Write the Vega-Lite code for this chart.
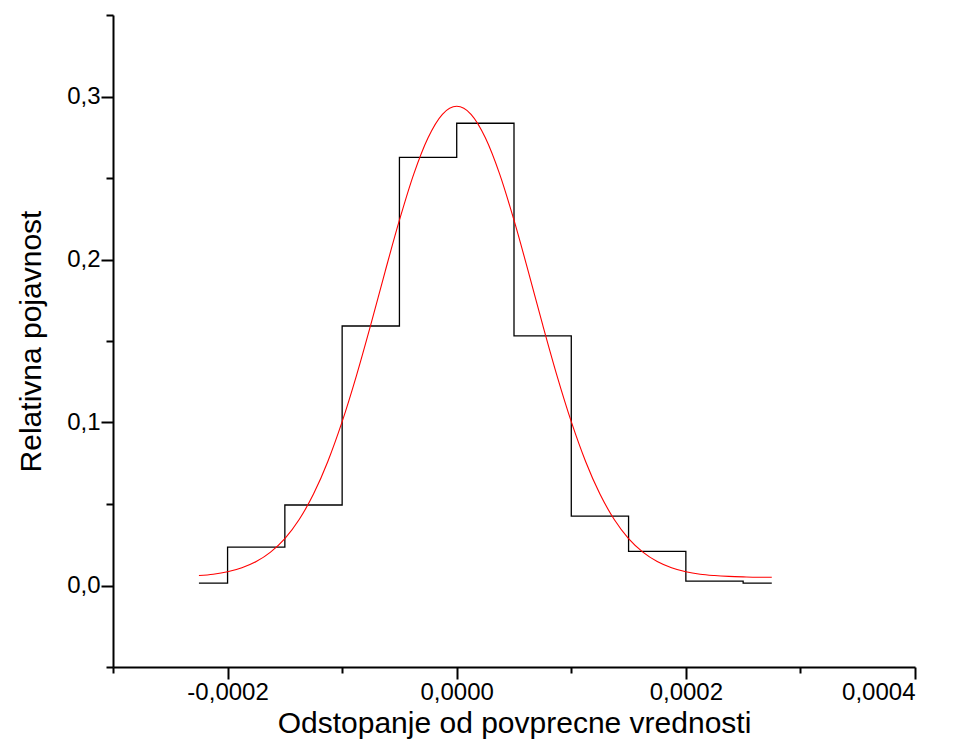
{
  "$schema": "https://vega.github.io/schema/vega-lite/v6.json",
  "width": 802,
  "height": 652,
  "autosize": "none",
  "padding": {"left": 113, "top": 15, "right": 42, "bottom": 78},
  "background": "white",
  "config": {"view": {"stroke": null}, "font": "Liberation Sans"},
  "datasets": {
    "hist": [
      {"x": -0.000225, "y": 0.0015},
      {"x": -0.000175, "y": 0.0236},
      {"x": -0.000125, "y": 0.0494},
      {"x": -0.000075, "y": 0.1592},
      {"x": -0.000025, "y": 0.2627},
      {"x": 0.000025, "y": 0.2836},
      {"x": 0.000075, "y": 0.1531},
      {"x": 0.000125, "y": 0.0426},
      {"x": 0.000175, "y": 0.0209},
      {"x": 0.000225, "y": 0.0027},
      {"x": 0.000275, "y": 0.0015}
    ],
    "fit": [
      {"x": -0.000225, "y": 0.0061},
      {"x": -0.0002125, "y": 0.0069},
      {"x": -0.0002, "y": 0.0084},
      {"x": -0.0001875, "y": 0.0109},
      {"x": -0.000175, "y": 0.0147},
      {"x": -0.0001625, "y": 0.0205},
      {"x": -0.00015, "y": 0.0288},
      {"x": -0.0001375, "y": 0.0405},
      {"x": -0.000125, "y": 0.0561},
      {"x": -0.0001125, "y": 0.0761},
      {"x": -0.0001, "y": 0.1005},
      {"x": -0.0000875, "y": 0.1288},
      {"x": -0.000075, "y": 0.1600},
      {"x": -0.0000625, "y": 0.1926},
      {"x": -0.00005, "y": 0.2241},
      {"x": -0.0000375, "y": 0.2524},
      {"x": -0.000025, "y": 0.2747},
      {"x": -0.0000125, "y": 0.2891},
      {"x": 0, "y": 0.294},
      {"x": 0.0000125, "y": 0.2891},
      {"x": 0.000025, "y": 0.2747},
      {"x": 0.0000375, "y": 0.2524},
      {"x": 0.00005, "y": 0.2241},
      {"x": 0.0000625, "y": 0.1926},
      {"x": 0.000075, "y": 0.1600},
      {"x": 0.0000875, "y": 0.1288},
      {"x": 0.0001, "y": 0.1005},
      {"x": 0.0001125, "y": 0.0761},
      {"x": 0.000125, "y": 0.0561},
      {"x": 0.0001375, "y": 0.0405},
      {"x": 0.00015, "y": 0.0288},
      {"x": 0.0001625, "y": 0.0205},
      {"x": 0.000175, "y": 0.0147},
      {"x": 0.0001875, "y": 0.0109},
      {"x": 0.0002, "y": 0.0084},
      {"x": 0.0002125, "y": 0.0069},
      {"x": 0.000225, "y": 0.0061},
      {"x": 0.0002375, "y": 0.0056},
      {"x": 0.00025, "y": 0.0053},
      {"x": 0.0002625, "y": 0.0051},
      {"x": 0.000275, "y": 0.0051}
    ]
  },
  "layer": [
    {
      "data": {"name": "hist"},
      "mark": {"type": "line", "interpolate": "step", "color": "black", "strokeWidth": 1.3},
      "encoding": {
        "x": {
          "field": "x", "type": "quantitative",
          "scale": {"domain": [-0.0003, 0.0004], "nice": false, "zero": false},
          "axis": {
            "values": [-0.0003, -0.0002, -0.0001, 0, 0.0001, 0.0002, 0.0003, 0.0004],
            "title": "Odstopanje od povprecne vrednosti",
            "grid": false,
            "domainColor": "black", "domainWidth": 2,
            "tickColor": "black", "tickWidth": 2,
            "tickSize": {"condition": {"test": "abs(datum.value/0.0002 - round(datum.value/0.0002)) < 0.001", "value": 12}, "value": 6},
            "labelExpr": "abs(datum.value/0.0002 - round(datum.value/0.0002)) < 0.001 ? (datum.value < -1e-9 ? '-' : '') + replace(format(abs(datum.value), '.4f'), '.', ',') : ''",
            "labelFontSize": 24, "labelColor": "black", "labelPadding": 1,
            "titleFontSize": 30, "titleFontWeight": "normal", "titleColor": "black", "titlePadding": 4
          }
        },
        "y": {
          "field": "y", "type": "quantitative",
          "scale": {"domain": [-0.05, 0.35], "nice": false, "zero": false},
          "axis": {
            "values": [-0.05, 0, 0.05, 0.1, 0.15, 0.2, 0.25, 0.3, 0.35],
            "title": "Relativna pojavnost",
            "grid": false,
            "domainColor": "black", "domainWidth": 2,
            "tickColor": "black", "tickWidth": 2,
            "tickSize": {"condition": {"test": "abs(datum.value/0.1 - round(datum.value/0.1)) < 0.001", "value": 12}, "value": 7},
            "labelExpr": "abs(datum.value/0.1 - round(datum.value/0.1)) < 0.001 ? replace(format(datum.value, '.1f'), '.', ',') : ''",
            "labelFontSize": 24, "labelColor": "black", "labelPadding": 1,
            "titleFontSize": 30, "titleFontWeight": "normal", "titleColor": "black", "titlePadding": 20
          }
        }
      }
    },
    {
      "data": {"name": "fit"},
      "mark": {"type": "line", "interpolate": "monotone", "color": "red", "strokeWidth": 1.1},
      "encoding": {
        "x": {"field": "x", "type": "quantitative"},
        "y": {"field": "y", "type": "quantitative"}
      }
    }
  ]
}
